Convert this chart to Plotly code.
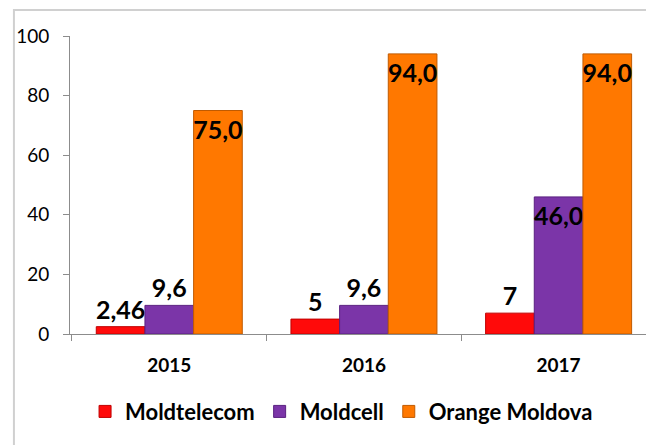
import plotly.graph_objects as go

years = ["2015", "2016", "2017"]
moldtelecom = [2.46, 5, 7]
moldcell = [9.6, 9.6, 46.0]
orange = [75.0, 94.0, 94.0]
moldtelecom_labels = ["2,46", "5", "7"]
moldcell_labels = ["9,6", "9,6", "<br>46,0"]
orange_labels = ["<br>75,0", "<br>94,0", "<br>94,0"]
y_ticks = [0, 20, 40, 60, 80, 100]

FONT = "Lato"
label_font = dict(family=FONT, size=25, color="black", weight="bold")

common = dict(textangle=0, constraintext="none", cliponaxis=False, textfont=label_font,
              insidetextanchor="end")

fig = go.Figure()
fig.add_trace(go.Bar(
    name="Moldtelecom", x=years, y=moldtelecom, text=moldtelecom_labels,
    textposition="outside",
    marker=dict(color="#FF0A0A", line=dict(color="#C00000", width=1)), **common,
))
fig.add_trace(go.Bar(
    name="Moldcell", x=years, y=moldcell, text=moldcell_labels,
    textposition=["outside", "outside", "inside"],
    marker=dict(color="#7B35A8", line=dict(color="#5A2080", width=1)), **common,
))
fig.add_trace(go.Bar(
    name="Orange Moldova", x=years, y=orange, text=orange_labels,
    textposition="inside",
    marker=dict(color="#FF7800", line=dict(color="#C05A00", width=1)), **common,
))

fig.update_layout(
    width=654, height=445,
    margin=dict(l=54, r=8, t=28, b=119),
    paper_bgcolor="white", plot_bgcolor="white",
    barmode="group", bargap=0.25, bargroupgap=0,
    font=dict(family=FONT, color="black"),
    legend=dict(orientation="h", x=0.465, xanchor="center", y=-0.19, yanchor="top",
                font=dict(family=FONT, size=22, weight="bold"),
                traceorder="normal"),
    xaxis=dict(range=[-0.51, 2.49], showline=True, linecolor="#8c8c8c", linewidth=1,
               ticks="outside", tickson="boundaries", ticklen=6, tickcolor="#8c8c8c",
               tickfont=dict(family=FONT, size=19, weight="bold"), showgrid=False,
               ticklabelstandoff=14),
    yaxis=dict(range=[0, 100], tickvals=y_ticks, showline=True, linecolor="#8c8c8c",
               linewidth=1, ticks="outside", ticklen=6, tickcolor="#8c8c8c",
               tickfont=dict(family=FONT, size=19), showgrid=False, zeroline=False,
               ticklabelstandoff=10),
    shapes=[dict(type="rect", xref="paper", yref="paper",
                 x0=-0.096, x1=1.2, y0=-0.5, y1=1.087,
                 line=dict(color="#d0d0d0", width=2), layer="below")],
)

fig.write_html("out.html")
